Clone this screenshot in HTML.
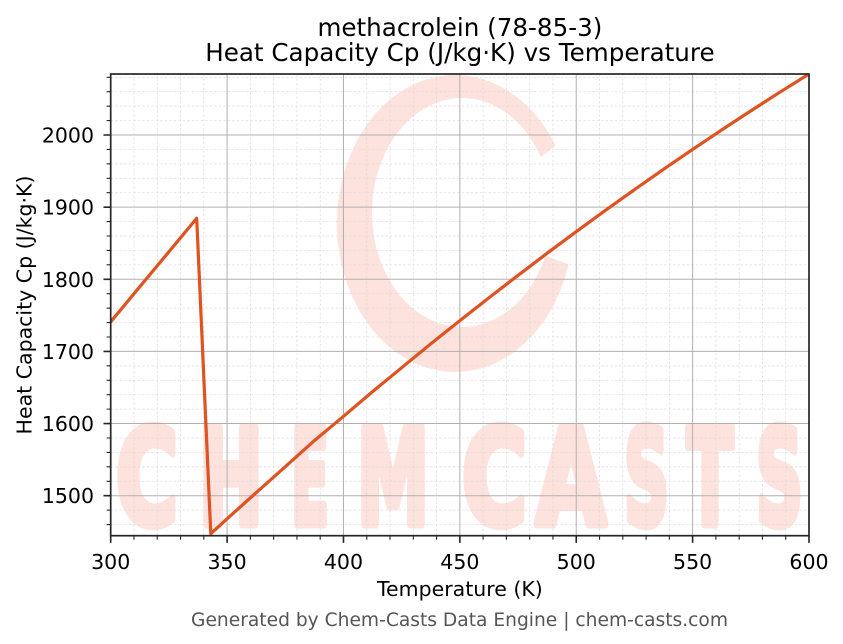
<!DOCTYPE html>
<html>
<head>
<meta charset="utf-8">
<style>
html,body{margin:0;padding:0;background:#fff;}
svg{display:block;}
text{font-family:"DejaVu Sans","Liberation Sans",sans-serif;}
</style>
</head>
<body>
<svg width="843" height="644" viewBox="0 0 843 644" xmlns="http://www.w3.org/2000/svg">
<defs>
<clipPath id="plot"><rect x="110.7" y="74" width="698.3" height="461.7"/></clipPath>
<clipPath id="ringclip"><polygon points="455,223 700,312 700,644 0,644 0,0 700,0 700,35"/></clipPath>
</defs>
<rect width="843" height="644" fill="#fff"/>

<!-- watermark -->
<g clip-path="url(#plot)">
<path clip-path="url(#ringclip)" fill-rule="evenodd" fill="#fde2dd"
 d="M337,223.5 a118,148.5 0 1,0 236,0 a118,148.5 0 1,0 -236,0 Z M372,212.5 a90,114.5 0 1,0 180,0 a90,114.5 0 1,0 -180,0 Z"/>
<g fill="#fde2dd" stroke="#fde2dd" stroke-width="9" stroke-linejoin="round" font-weight="bold" font-size="132" text-anchor="middle" style="font-family:'DejaVu Sans',sans-serif">
<text x="147" y="524" textLength="62" lengthAdjust="spacingAndGlyphs">C</text>
<text x="231" y="524" textLength="64" lengthAdjust="spacingAndGlyphs">H</text>
<text x="310" y="524" textLength="38" lengthAdjust="spacingAndGlyphs">E</text>
<text x="393" y="524" textLength="72" lengthAdjust="spacingAndGlyphs">M</text>
<text x="494.5" y="524" textLength="65" lengthAdjust="spacingAndGlyphs">C</text>
<text x="571" y="524" textLength="70" lengthAdjust="spacingAndGlyphs">A</text>
<text x="646.5" y="524" textLength="45" lengthAdjust="spacingAndGlyphs">S</text>
<text x="710" y="524" textLength="46" lengthAdjust="spacingAndGlyphs">T</text>
<text x="779.5" y="524" textLength="47" lengthAdjust="spacingAndGlyphs">S</text>
</g>
</g>

<!-- minor grid -->
<g stroke="#dcdcdc" stroke-width="0.7" stroke-dasharray="2.5,2" fill="none">
<path d="M133.98,74V535.7M157.25,74V535.7M180.53,74V535.7M203.81,74V535.7M250.36,74V535.7M273.64,74V535.7M296.92,74V535.7M320.19,74V535.7M366.75,74V535.7M390.02,74V535.7M413.3,74V535.7M436.58,74V535.7M483.13,74V535.7M506.41,74V535.7M529.69,74V535.7M552.96,74V535.7M599.52,74V535.7M622.79,74V535.7M646.07,74V535.7M669.35,74V535.7M715.9,74V535.7M739.18,74V535.7M762.45,74V535.7M785.73,74V535.7"/>
<path d="M110.7,524.56H809M110.7,510.13H809M110.7,481.27H809M110.7,466.84H809M110.7,452.42H809M110.7,437.99H809M110.7,409.13H809M110.7,394.7H809M110.7,380.28H809M110.7,365.85H809M110.7,336.99H809M110.7,322.56H809M110.7,308.14H809M110.7,293.71H809M110.7,264.85H809M110.7,250.42H809M110.7,236H809M110.7,221.57H809M110.7,192.71H809M110.7,178.28H809M110.7,163.86H809M110.7,149.43H809M110.7,120.57H809M110.7,106.14H809M110.7,91.72H809M110.7,77.29H809"/>
</g>
<!-- major grid -->
<g stroke="#b0b0b0" stroke-width="1" fill="none">
<path d="M227.09,74V535.7M343.47,74V535.7M459.86,74V535.7M576.24,74V535.7M692.62,74V535.7"/>
<path d="M110.7,495.7H809M110.7,423.56H809M110.7,351.42H809M110.7,279.28H809M110.7,207.14H809M110.7,135H809"/>
</g>

<!-- data line -->
<polyline clip-path="url(#plot)" fill="none" stroke="#de5321" stroke-width="3.2" stroke-linejoin="round" stroke-linecap="round"
 points="110.7,321.8 196.7,218.3 210.8,533.7 227.1,518.8 250.4,497.8 285.3,466.7 314.4,440.6 343.5,416.3 372.6,391.6 401.7,367.7 430.8,343.8 459.9,320.6 489,297.7 518.1,275.3 547.2,253.2 576.2,231.7 605.3,210.4 634.4,189.7 663.5,169.3 692.6,149.4 721.7,129.9 750.8,110.9 779.9,92.2 809,74"/>

<!-- spines -->
<rect x="110.7" y="74" width="698.3" height="461.7" fill="none" stroke="#262626" stroke-width="1.7"/>

<!-- ticks -->
<g stroke="#262626" fill="none">
<path stroke-width="1.6" d="M110.7,535.7v7.2M227.09,535.7v7.2M343.47,535.7v7.2M459.86,535.7v7.2M576.24,535.7v7.2M692.62,535.7v7.2M809,535.7v7.2"/>
<path stroke-width="1.1" d="M133.98,535.7v4.1M157.25,535.7v4.1M180.53,535.7v4.1M203.81,535.7v4.1M250.36,535.7v4.1M273.64,535.7v4.1M296.92,535.7v4.1M320.19,535.7v4.1M366.75,535.7v4.1M390.02,535.7v4.1M413.3,535.7v4.1M436.58,535.7v4.1M483.13,535.7v4.1M506.41,535.7v4.1M529.69,535.7v4.1M552.96,535.7v4.1M599.52,535.7v4.1M622.79,535.7v4.1M646.07,535.7v4.1M669.35,535.7v4.1M715.9,535.7v4.1M739.18,535.7v4.1M762.45,535.7v4.1M785.73,535.7v4.1"/>
<path stroke-width="1.6" d="M110.7,495.7h-7.2M110.7,423.56h-7.2M110.7,351.42h-7.2M110.7,279.28h-7.2M110.7,207.14h-7.2M110.7,135h-7.2"/>
<path stroke-width="1.1" d="M110.7,524.56h-4.1M110.7,510.13h-4.1M110.7,481.27h-4.1M110.7,466.84h-4.1M110.7,452.42h-4.1M110.7,437.99h-4.1M110.7,409.13h-4.1M110.7,394.7h-4.1M110.7,380.28h-4.1M110.7,365.85h-4.1M110.7,336.99h-4.1M110.7,322.56h-4.1M110.7,308.14h-4.1M110.7,293.71h-4.1M110.7,264.85h-4.1M110.7,250.42h-4.1M110.7,236h-4.1M110.7,221.57h-4.1M110.7,192.71h-4.1M110.7,178.28h-4.1M110.7,163.86h-4.1M110.7,149.43h-4.1M110.7,120.57h-4.1M110.7,106.14h-4.1M110.7,91.72h-4.1M110.7,77.29h-4.1"/>
</g>

<!-- tick labels -->
<g font-size="20.5" fill="#000" text-anchor="middle">
<text x="110.7" y="569">300</text>
<text x="227.09" y="569">350</text>
<text x="343.47" y="569">400</text>
<text x="459.86" y="569">450</text>
<text x="576.24" y="569">500</text>
<text x="692.62" y="569">550</text>
<text x="809" y="569">600</text>
</g>
<g font-size="20.5" fill="#000" text-anchor="end">
<text x="94" y="503.2">1500</text>
<text x="94" y="431.1">1600</text>
<text x="94" y="358.9">1700</text>
<text x="94" y="286.8">1800</text>
<text x="94" y="214.6">1900</text>
<text x="94" y="142.5">2000</text>
</g>

<!-- axis labels -->
<text x="459.9" y="596" font-size="20.5" text-anchor="middle" fill="#000">Temperature (K)</text>
<text transform="translate(31.5,305) rotate(-90)" x="0" y="0" font-size="20.5" text-anchor="middle" fill="#000">Heat Capacity Cp (J/kg·K)</text>

<!-- title -->
<text x="459.9" y="36" font-size="24.6" text-anchor="middle" fill="#000">methacrolein (78-85-3)</text>
<text x="459.9" y="61" font-size="24.6" text-anchor="middle" fill="#000">Heat Capacity Cp (J/kg·K) vs Temperature</text>

<!-- footer -->
<text x="459.5" y="626" font-size="18.6" text-anchor="middle" fill="#555" textLength="537" lengthAdjust="spacingAndGlyphs">Generated by Chem-Casts Data Engine | chem-casts.com</text>
</svg>
</body>
</html>
